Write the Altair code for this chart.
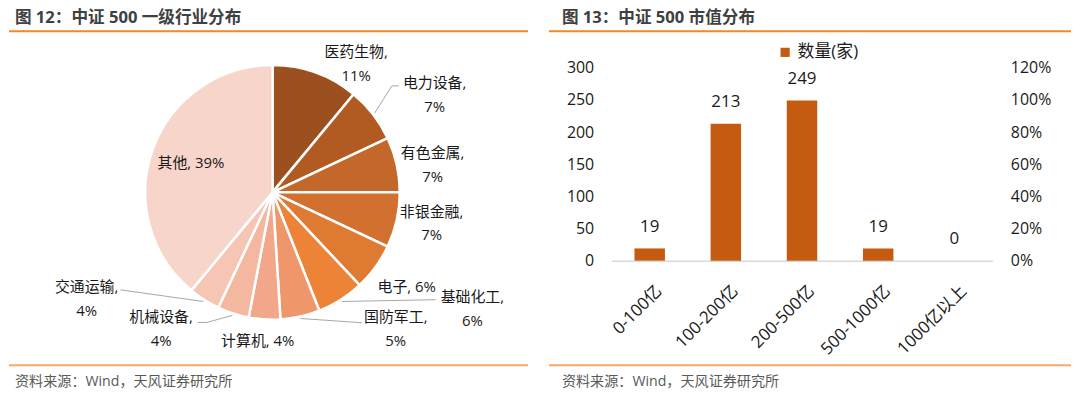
import math
import altair as alt
import pandas as pd

# ---------------- data ----------------
industries = ["医药生物", "电力设备", "有色金属", "非银金融", "电子", "基础化工",
              "国防军工", "计算机", "机械设备", "交通运输", "其他"]
shares = [11, 7, 7, 7, 6, 6, 5, 4, 4, 4, 39]

cap_bins = ["0-100亿", "100-200亿", "200-500亿", "500-1000亿", "1000亿以上"]
counts = [19, 213, 249, 19, 0]
left_ticks = [0, 50, 100, 150, 200, 250, 300]
right_ticks = [0, 0.2, 0.4, 0.6, 0.8, 1.0, 1.2]

titles = ["图 12：中证 500 一级行业分布", "图 13：中证 500 市值分布"]
source_text = "资料来源：Wind，天风证券研究所"
legend_name = "数量(家)"

# ---------------- styles / layout ----------------
FONT = "Open Sans, Noto Sans CJK SC"
TXT = "#1a1a1a"
BAR = "#C55A11"
slice_colors = ["#9C501F", "#B15B22", "#C4672A", "#D2712F", "#DF7A33", "#ED8337",
                "#F0966B", "#F2A78A", "#F4B7A0", "#F6C5B4", "#F8D5CA"]
single_line = {"电子", "计算机", "其他"}
LINE_H = 24
# label placement: (radius px, angle shift deg from slice middle)
label_layout = [(154, 13.3), (190, 6.9), (163.3, 2.9), (163, -1.5), (165, -0.9),
                (232.8, -27.3), (185.2, -29.4), (149.8, 2.1), (177.3, 21.2),
                (215.4, 27.8), (87, -0.3)]
# leader lines: offsets (from label centre) of the points after the slice point
leader_layout = {
    "电力设备": [(-43, -9.5), (-36, -9.5)],
    "基础化工": [(-37, -9.5)],
    "国防军工": [(-34, -6.5)],
    "机械设备": [(46, -6.5), (37, -6.5)],
    "交通运输": [(34, -9)],
}

LW, PH = 522, 194          # left view
RW = 383                   # right view width
CX, CY, R = 265, 125.3, 128
TITLE_TOP, RULE_Y, BRULE_Y, SRC_Y = -57.7, -36.7, 299.3, 316.3


def polar(angle_deg, r):
    a = math.radians(angle_deg)
    return CX + r * math.sin(a), CY - r * math.cos(a)


total = sum(shares)
mids = []
cum = 0
for v in shares:
    mids.append((cum + v / 2) / total * 360)
    cum += v


def deco(x0, x1, tx, title):
    one = pd.DataFrame({"t": [title], "s": [source_text]})
    t = alt.Chart(one).mark_text(font=FONT, fontSize=16.7, fontWeight="bold", color="#404040",
                                 align="left", baseline="top").encode(
        x=alt.value(tx), y=alt.value(TITLE_TOP), text="t:N")
    r1 = alt.Chart(one).mark_rule(color="#F08A24", strokeWidth=2).encode(
        x=alt.value(x0), x2=alt.value(x1), y=alt.value(RULE_Y))
    r2 = alt.Chart(one).mark_rule(color="#F7A96B", strokeWidth=2).encode(
        x=alt.value(x0), x2=alt.value(x1), y=alt.value(BRULE_Y))
    s = alt.Chart(one).mark_text(font=FONT, fontSize=14.2, color="#595959",
                                 align="left", baseline="middle").encode(
        x=alt.value(tx), y=alt.value(SRC_Y), text="s:N")
    return [t, r1, r2, s]


# ---------------- left panel: pie ----------------
pie_df = pd.DataFrame({"industry": industries, "share": shares, "order": list(range(len(shares)))})
arcs = alt.Chart(pie_df).mark_arc(radius=R, stroke="white", strokeWidth=2.5).encode(
    theta=alt.Theta("share:Q", stack=True),
    order=alt.Order("order:Q"),
    color=alt.Color("industry:N", scale=alt.Scale(domain=industries, range=slice_colors), legend=None),
    x=alt.value(CX), y=alt.value(CY),
)

lab_rows, lead_rows = [], []
for i, (name, v) in enumerate(zip(industries, shares)):
    r, dth = label_layout[i]
    lx, ly = polar(mids[i] + dth, r)
    if name in single_line:
        txt, first_y = f"{name}, {v}%", ly
    else:
        txt, first_y = f"{name},\n{v}%", ly - LINE_H / 2
    lab_rows.append({"lx": lx, "ly": first_y, "label": txt})
    if name in leader_layout:
        sx, sy = polar(mids[i], 130)
        lead_rows.append({"name": name, "k": 0, "px": sx, "py": sy})
        for k, (ox, oy) in enumerate(leader_layout[name]):
            lead_rows.append({"name": name, "k": k + 1, "px": lx + ox, "py": ly + oy})
lab_df = pd.DataFrame(lab_rows)
lead_df = pd.DataFrame(lead_rows)

labels = alt.Chart(lab_df).mark_text(font=FONT, fontSize=15, color=TXT, lineBreak="\n",
                                     lineHeight=LINE_H, align="center", baseline="middle").encode(
    x=alt.X("lx:Q", scale=None, axis=None),
    y=alt.Y("ly:Q", scale=None, axis=None),
    text="label:N",
)
leaders = alt.Chart(lead_df).mark_line(color="#A6A6A6", strokeWidth=1).encode(
    x=alt.X("px:Q", scale=None, axis=None),
    y=alt.Y("py:Q", scale=None, axis=None),
    detail="name:N",
    order="k:Q",
)

left_panel = alt.layer(arcs, leaders, labels, *deco(0, LW, 6, titles[0])).properties(width=LW, height=PH)

# ---------------- right panel: bars ----------------
bar_df = pd.DataFrame({"bin": cap_bins, "count": counts, "series": [legend_name] * len(counts)})
base = alt.Chart(bar_df).encode(
    x=alt.X("bin:N", sort=cap_bins,
            scale=alt.Scale(paddingInner=0.6, paddingOuter=0.3),
            axis=alt.Axis(title=None, labelAngle=-45, labelFontSize=17, labelColor=TXT,
                          labelFont=FONT, domainColor="#D9D9D9", domainWidth=1.5,
                          ticks=False, labelPadding=22, labelOffset=4)),
    y=alt.Y("count:Q", scale=alt.Scale(domain=[0, 300], nice=False),
            axis=alt.Axis(title=None, values=left_ticks, labelFontSize=16, labelColor=TXT,
                          labelFont=FONT, domain=False, ticks=False, grid=False,
                          labelPadding=18, labelOverlap=False)),
)
bars = base.mark_bar().encode(
    color=alt.Color("series:N", scale=alt.Scale(domain=[legend_name], range=[BAR]),
                    legend=alt.Legend(title=None, orient="none", legendX=166, legendY=-24,
                                      symbolType="square", symbolSize=85, symbolStrokeWidth=0,
                                      labelFontSize=17, labelFont=FONT, labelColor=TXT,
                                      labelOffset=4, padding=0)),
)
vals = base.mark_text(dy=-22, font=FONT, fontSize=17, color=TXT, baseline="middle").encode(
    text="count:Q",
)
pct_df = pd.DataFrame({"pct": [right_ticks[0], right_ticks[-1]]})
right_axis = alt.Chart(pct_df).mark_point(opacity=0).encode(
    y=alt.Y("pct:Q", scale=alt.Scale(domain=[0, 1.2], nice=False),
            axis=alt.Axis(title=None, orient="right", values=right_ticks, format=".0%",
                          labelFontSize=16, labelColor=TXT, labelFont=FONT, domain=False,
                          ticks=False, grid=False, labelPadding=18, labelOverlap=False)),
)
main = alt.layer(alt.layer(bars, vals), right_axis).resolve_scale(y="independent")
right_panel = alt.layer(main, *deco(-63, 462, -50, titles[1])).properties(width=RW, height=PH)

chart = alt.hconcat(left_panel, right_panel, spacing=84, bounds="flush").resolve_scale(
    color="independent").properties(
    padding={"top": 1, "left": 0, "right": 0, "bottom": 0}).configure(font=FONT).configure_view(
    strokeWidth=0, stroke="transparent", fill="transparent")

chart.save("out.html", embed_options={"renderer": "svg", "actions": False})
